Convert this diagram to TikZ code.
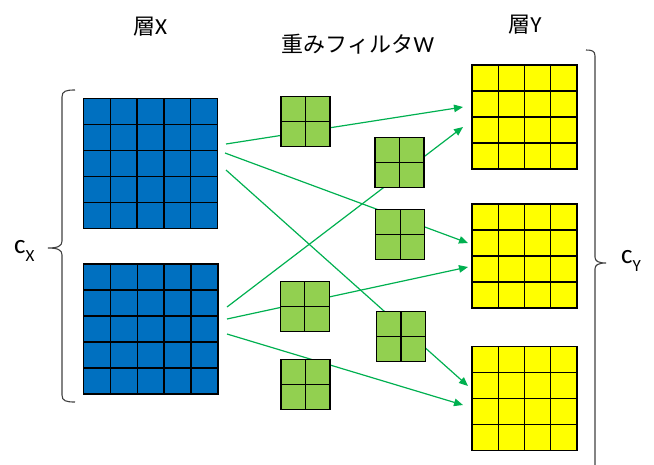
\documentclass[tikz,border=0pt]{standalone}
\usepackage{fontspec}
\setmainfont{Carlito}
\newfontfamily\jpfont{Noto Sans CJK JP}
\usetikzlibrary{calc,arrows.meta}

\definecolor{gridblue}{HTML}{0070C0}
\definecolor{gridyellow}{HTML}{FFFF00}
\definecolor{filtergreen}{HTML}{92D050}
\definecolor{flowgreen}{HTML}{00B050}

\newcommand{\jpsize}{\jpfont\fontsize{22}{26}\selectfont}
\newcommand{\lsize}{\fontsize{23}{26}\selectfont}

\tikzset{
  cellbox/.style={draw=black, line width=1.3pt, inner sep=0pt, outer sep=0pt},
  blueplane/.style={cellbox, fill=gridblue, minimum width=134.4pt, minimum height=130pt},
  yellowplane/.style={cellbox, fill=gridyellow, minimum width=105pt, minimum height=104pt},
  filterbox/.style={cellbox, fill=filtergreen, minimum width=49pt, minimum height=50pt},
  gridline/.style={black, line width=1.3pt},
  flow/.style={flowgreen, line width=1.2pt, -{Triangle[length=9pt,width=7.5pt]}},
  bracket/.style={black!75, line width=1.1pt},
  title/.style={inner sep=0pt, anchor=base},
  chanlabel/.style={inner sep=0pt, anchor=base west},
}

% inner cell lines of a grid node: #1 node name, #2 columns, #3 rows
\newcommand{\cellgrid}[3]{%
  \pgfmathtruncatemacro{\lastcol}{#2-1}%
  \pgfmathtruncatemacro{\lastrow}{#3-1}%
  \foreach \k in {1,...,\lastcol}
    \draw[gridline] ($(#1.north west)!\k/#2!(#1.north east)$) -- ($(#1.south west)!\k/#2!(#1.south east)$);
  \foreach \k in {1,...,\lastrow}
    \draw[gridline] ($(#1.north west)!\k/#3!(#1.south west)$) -- ($(#1.north east)!\k/#3!(#1.south east)$);
}

\begin{document}
\begin{tikzpicture}[x=1pt,y=-1pt]
\useasboundingbox (0,0) rectangle (654,464);

% titles
\node[title] (lx) at (150,34) {{\jpsize 層}{\lsize X}};
\node[title] (lw) at (358,52) {{\jpsize 重みフィルタ}{\lsize W}};
\node[title] (ly) at (525,32) {{\jpsize 層}{\lsize Y}};

% input layer X
\node[blueplane] (x1) at (150.5,163.3) {};
\cellgrid{x1}{5}{5}
\node[blueplane] (x2) at (150.7,329) {};
\cellgrid{x2}{5}{5}

% output layer Y
\node[yellowplane] (y1) at (524.5,117) {};
\cellgrid{y1}{4}{4}
\node[yellowplane] (y2) at (524.5,256) {};
\cellgrid{y2}{4}{4}
\node[yellowplane] (y3) at (524.5,398.5) {};
\cellgrid{y3}{4}{4}

% connection end points
\coordinate (s1) at (226,144);  \coordinate (e1) at (463,107);
\coordinate (s2) at (225,153);  \coordinate (e2) at (468,243);
\coordinate (s3) at (226,170);  \coordinate (e3) at (468,386);
\coordinate (s4) at (227,307);  \coordinate (e4) at (463,127);
\coordinate (s5) at (227,319);  \coordinate (e5) at (468,267);
\coordinate (s6) at (227,334);  \coordinate (e6) at (463,405);

\draw[flow] (s1) -- (e1);
\draw[flow] (s2) -- (e2);
\draw[flow] (s3) -- (e3);
\draw[flow] (s4) -- (e4);
\draw[flow] (s5) -- (e5);
\draw[flow] (s6) -- (e6);

% weight filters W, laid over the connections
\node[filterbox] (w1) at (305.5,121.5) {};
\cellgrid{w1}{2}{2}
\node[filterbox] (w2) at (399.5,162.5) {};
\cellgrid{w2}{2}{2}
\node[filterbox] (w3) at (400.3,234.8) {};
\cellgrid{w3}{2}{2}
\node[filterbox] (w4) at (304.8,306.5) {};
\cellgrid{w4}{2}{2}
\node[filterbox] (w5) at (401,336.7) {};
\cellgrid{w5}{2}{2}
\node[filterbox] (w6) at (305.5,384.7) {};
\cellgrid{w6}{2}{2}

% channel braces
\draw[bracket] (75,90) .. controls (66,90) and (62,91) .. (62,97) -- (62,241)
  .. controls (62,246) and (58,248) .. (48,248)
  .. controls (58,248) and (62,250) .. (62,255) -- (62,395)
  .. controls (62,401) and (66,402) .. (75,402);
\draw[bracket] (586,50) .. controls (592,50) and (595,51) .. (595,56) -- (595,257)
  .. controls (595,261) and (598,263) .. (606,263)
  .. controls (598,263) and (595,265) .. (595,269) -- (595,470)
  .. controls (595,475) and (592,476) .. (586,476);

\node[chanlabel] (cx) at (14,253) {\fontsize{27}{30}\selectfont c\raisebox{-8.5pt}{\fontsize{17}{20}\selectfont X}};
\node[chanlabel] (cy) at (621,263) {\fontsize{27}{30}\selectfont c\raisebox{-8.5pt}{\fontsize{17}{20}\selectfont Y}};
\end{tikzpicture}
\end{document}
